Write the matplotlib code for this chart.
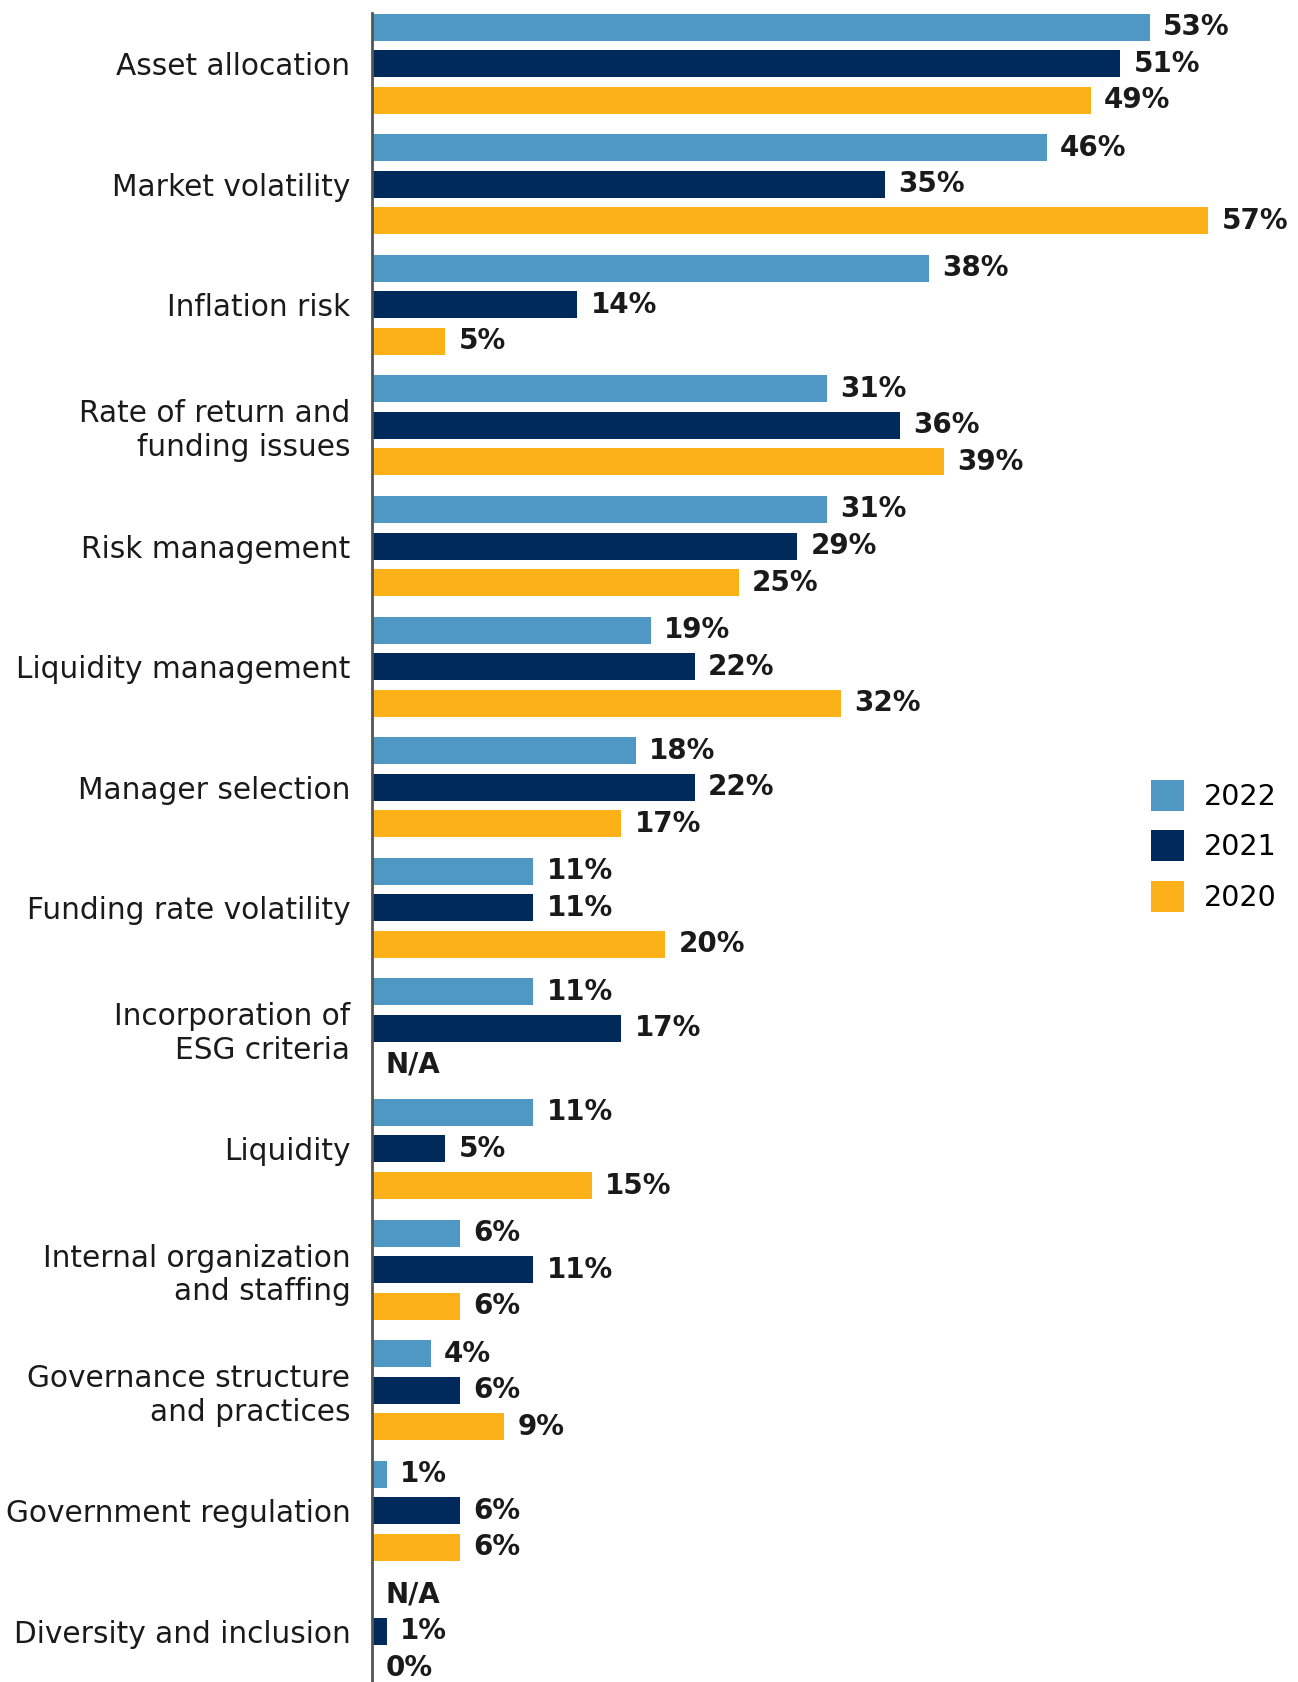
import numpy as np
import matplotlib
matplotlib.use("Agg")
import matplotlib.pyplot as plt
from matplotlib.patches import Patch

### chart data (None = N/A)
categories = ["Asset allocation", "Market volatility", "Inflation risk",
              "Rate of return and\nfunding issues", "Risk management",
              "Liquidity management", "Manager selection",
              "Funding rate volatility", "Incorporation of\nESG criteria",
              "Liquidity", "Internal organization\nand staffing",
              "Governance structure\nand practices", "Government regulation",
              "Diversity and inclusion"]
years = ["2022", "2021", "2020"]
vals_2022 = [53, 46, 38, 31, 31, 19, 18, 11, 11, 11, 6, 4, 1, None]
vals_2021 = [51, 35, 14, 36, 29, 22, 22, 11, 17, 5, 11, 6, 6, 1]
vals_2020 = [49, 57, 5, 39, 25, 32, 17, 20, None, 15, 6, 9, 6, 0]

colors = ["#4F98C3", "#002A5C", "#FDB119"]

plt.rcParams['font.family'] = ['DejaVu Sans']

fig = plt.figure(figsize=(12.98, 16.82), dpi=100)
ax = fig.add_axes([372 / 1298, 0.0, 1 - 372 / 1298, 1 - 13 / 1682])

y = np.arange(len(categories))
offset = 0.303
height = 0.224

series = [vals_2022, vals_2021, vals_2020]
for k, vals in enumerate(series):
    pos = y + (k - 1) * offset
    widths = [v if v is not None else 0 for v in vals]
    ax.barh(pos, widths, height=height, color=colors[k], edgecolor='none')
    for p, v in zip(pos, vals):
        if v is None:
            txt = "N/A"
            xv = 0
        else:
            txt = "%d%%" % v
            xv = v
        ax.text(xv + 0.9, p, txt, va='center', ha='left',
                fontsize=20, fontweight='bold', color='#1a1a1a')

ax.set_ylim(13.42, -0.42)
ax.set_xlim(0, (1298 - 372) / 14.67)

ax.set_yticks(y)
ax.set_yticklabels(categories, fontsize=21.3, color='#1a1a1a')
ax.tick_params(axis='y', length=0, pad=15.5)
ax.set_xticks([])

for s in ['top', 'right', 'bottom']:
    ax.spines[s].set_visible(False)
ax.spines['left'].set_color('#555555')
ax.spines['left'].set_linewidth(2)

handles = [Patch(facecolor=c, edgecolor='none') for c in colors]
fig.legend(handles, years, loc='upper left',
           bbox_to_anchor=(1151 / 1298, 1 - 780 / 1682),
           frameon=False, fontsize=20.5, handlelength=1.17, handleheight=1.3,
           labelspacing=0.68, handletextpad=0.7, borderpad=0, borderaxespad=0)

plt.savefig('out.png', dpi=100)
